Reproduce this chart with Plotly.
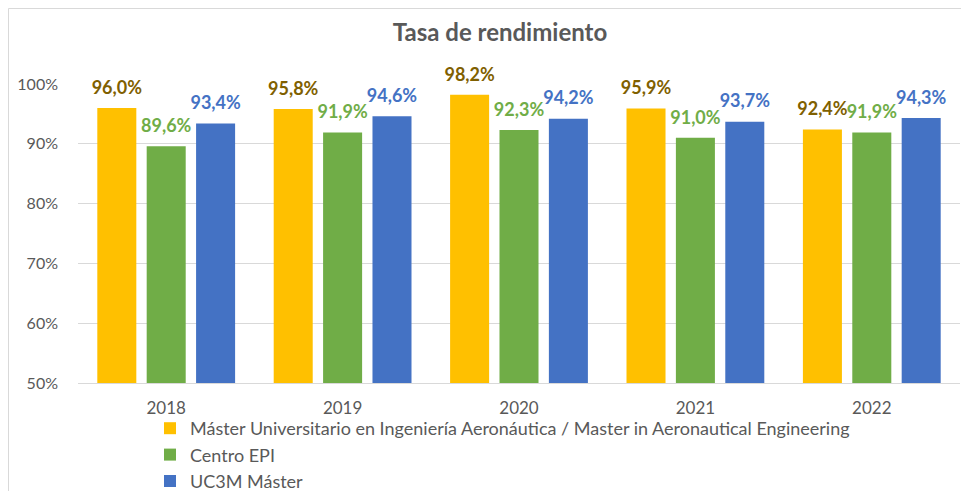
import plotly.graph_objects as go

years = ["2018", "2019", "2020", "2021", "2022"]
master_aero = [0.960, 0.958, 0.982, 0.959, 0.924]
centro_epi = [0.896, 0.919, 0.923, 0.910, 0.919]
uc3m_master = [0.934, 0.946, 0.942, 0.937, 0.943]
series_names = [
    "Máster Universitario en Ingeniería Aeronáutica / Master in Aeronautical Engineering",
    "Centro EPI",
    "UC3M Máster",
]
bar_colors = ["#FFC000", "#70AD47", "#4472C4"]
label_colors = ["#7F6000", "#70AD47", "#4472C4"]

FONT = "Lato, Carlito, Calibri, sans-serif"
OFF = 8  # default body margin of the html page
W, H = 969 - OFF, 491 - OFF
# plot area in screen pixels
P_LEFT, P_RIGHT, P_TOP, P_BOTTOM = 78, 960, 84, 383
ML = P_LEFT - OFF
MT = P_TOP - OFF
MR = W - (P_RIGHT - OFF)
MB = 0


def fmt(v):
    return f"{v*100:.1f}%".replace(".", ",")


fig = go.Figure()
all_vals = [master_aero, centro_epi, uc3m_master]
for i, (name, vals, bc) in enumerate(zip(series_names, all_vals, bar_colors)):
    fig.add_trace(go.Bar(
        x=years, y=vals, name=name,
        marker=dict(color=bc, line=dict(width=0)),
        offsetgroup=str(i),
    ))
for i, (name, vals, lc) in enumerate(zip(series_names, all_vals, label_colors)):
    fig.add_trace(go.Scatter(
        x=years, y=vals, mode="markers+text", showlegend=False, hoverinfo="skip",
        marker=dict(size=14, opacity=0),
        text=[fmt(v) for v in vals], textposition="top center",
        textfont=dict(family=FONT, size=18, color=lc, weight="bold"),
        offsetgroup=str(i), cliponaxis=False,
    ))

pw = W - ML - MR
ph_total = H - MT - MB
dom_bottom = (H - MB - (P_BOTTOM - OFF)) / ph_total


def px_x(p):  # screen x -> paper fraction
    return (p - OFF - ML) / pw


def px_y(p):  # screen y -> paper fraction
    return (H - MB - (p - OFF)) / ph_total


fig.update_layout(
    width=W, height=H,
    margin=dict(l=ML, r=MR, t=MT, b=MB, autoexpand=False),
    paper_bgcolor="white", plot_bgcolor="white",
    barmode="group", bargap=0.16, bargroupgap=0.21,
    scattermode="group", scattergap=0.16,
    title=dict(text="<b>Tasa de rendimiento</b>", x=px_x(500), xanchor="center", xref="paper",
               y=1 - (33 - OFF) / H, yanchor="middle",
               font=dict(family=FONT, size=24, color="#595959")),
    font=dict(family=FONT, color="#595959"),
    xaxis=dict(showline=True, linecolor="#D9D9D9", linewidth=1, ticks="",
               tickfont=dict(family=FONT, size=17, color="#595959"), ticklabelstandoff=10),
    yaxis=dict(range=[0.5, 1.0], dtick=0.1, tickformat=".0%", showgrid=True,
               domain=[dom_bottom, 1],
               gridcolor="#D9D9D9", gridwidth=1, zeroline=False, ticks="",
               tickfont=dict(family=FONT, size=16, color="#595959"), ticklabelstandoff=19),
    legend=dict(orientation="v", x=px_x(150), xanchor="left", y=px_y(410), yanchor="top",
                font=dict(family=FONT, size=18, color="#595959"),
                itemwidth=30, tracegroupgap=0, bgcolor="rgba(0,0,0,0)"),
    showlegend=True,
    shapes=[dict(type="rect", xref="paper", yref="paper",
                 x0=px_x(8.5), x1=px_x(980), y0=px_y(505), y1=px_y(8.5),
                 line=dict(color="#D9D9D9", width=1), fillcolor="rgba(0,0,0,0)", layer="below")],
)

fig.write_html("out.html")
